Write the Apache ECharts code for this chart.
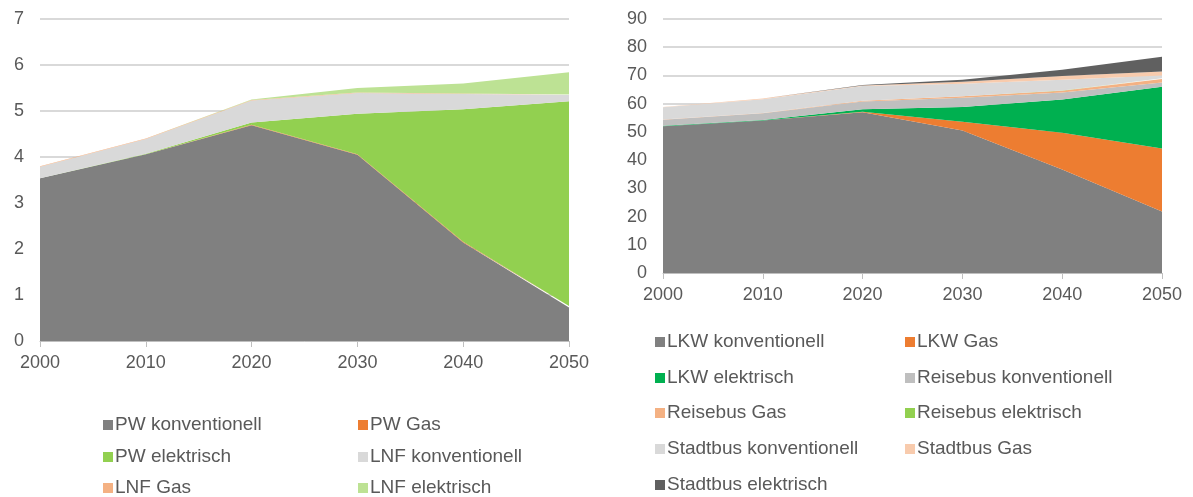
<!DOCTYPE html>
<html>
<head>
<meta charset="utf-8">
<script src="https://cdn.jsdelivr.net/npm/echarts@6/dist/echarts.min.js"></script>
<style>
html,body{margin:0;padding:0;background:#fff;}
#c{width:1193px;height:497px;}
</style>
</head>
<body>
<div id="c"></div>
<script>
// ---- data ----
const years = ['2000', '2010', '2020', '2030', '2040', '2050'];

// Left chart (PW / LNF)
const pwKonv   = [3.54, 4.06, 4.69, 4.05, 2.14, 0.73];
const pwGas    = [0, 0, 0.01, 0.01, 0.02, 0.03];
const pwElek   = [0, 0.01, 0.05, 0.88, 2.88, 4.45];
const lnfKonv  = [0.25, 0.32, 0.48, 0.45, 0.33, 0.14];
const lnfGas   = [0.01, 0.01, 0.01, 0.01, 0.01, 0.01];
const lnfElek  = [0, 0, 0.01, 0.10, 0.22, 0.48];

// Right chart (LKW / Busse)
const lkwKonv      = [52.0, 54.0, 57.0, 50.5, 36.7, 21.8];
const lkwGas       = [0, 0, 0.1, 3.1, 13.0, 22.3];
const lkwElek      = [0.2, 0.2, 0.9, 5.2, 11.8, 21.9];
const reiseKonv    = [2.1, 2.4, 2.8, 3.3, 2.5, 1.5];
const reiseGas     = [0.1, 0.1, 0.2, 0.5, 0.6, 1.2];
const reiseElek    = [0, 0, 0, 0.05, 0.1, 0.3];
const stadtKonv    = [4.3, 4.9, 5.3, 4.4, 3.8, 1.0];
const stadtGas     = [0.1, 0.2, 0.1, 0.7, 1.3, 1.4];
const stadtElek    = [0, 0, 0.2, 0.7, 2.2, 5.2];

const leftNames  = ['PW konventionell', 'PW Gas', 'PW elektrisch', 'LNF konventionell', 'LNF Gas', 'LNF elektrisch'];
const leftData   = [pwKonv, pwGas, pwElek, lnfKonv, lnfGas, lnfElek];
const leftColors = ['#808080', '#ED7D31', '#92D050', '#D9D9D9', '#F4B183', '#BDE294'];

const rightNames  = ['LKW konventionell', 'LKW Gas', 'LKW elektrisch', 'Reisebus konventionell', 'Reisebus Gas', 'Reisebus elektrisch', 'Stadtbus konventionell', 'Stadtbus Gas', 'Stadtbus elektrisch'];
const rightData   = [lkwKonv, lkwGas, lkwElek, reiseKonv, reiseGas, reiseElek, stadtKonv, stadtGas, stadtElek];
const rightColors = ['#808080', '#ED7D31', '#00B050', '#BFBFBF', '#F4B183', '#92D050', '#D9D9D9', '#F8CBAD', '#606060'];

// ---- chart ----
const FONT = 'Liberation Sans, Arial, sans-serif';
const TXT = '#595959';

function mkSeries(names, data, colors, idx, stack) {
  return names.map((n, i) => ({
    name: n,
    type: 'line',
    stack: stack,
    xAxisIndex: idx,
    yAxisIndex: idx,
    data: data[i],
    symbol: 'none',
    showSymbol: false,
    lineStyle: { width: 0 },
    areaStyle: { color: colors[i], opacity: 1 },
    itemStyle: { color: colors[i] },
    emphasis: { disabled: true }
  }));
}

function xAx(idx) {
  return {
    type: 'category', gridIndex: idx, data: years, boundaryGap: false,
    axisLine: { show: true, lineStyle: { color: '#BFBFBF', width: 1 } },
    axisTick: { show: true, length: 6, lineStyle: { color: '#BFBFBF' } },
    axisLabel: { color: TXT, fontFamily: FONT, fontSize: 18, margin: 13 },
    splitLine: { show: false }
  };
}
function yAx(idx, max, interval, margin) {
  return {
    type: 'value', gridIndex: idx, min: 0, max: max, interval: interval,
    axisLine: { show: false }, axisTick: { show: false },
    axisLabel: { color: TXT, fontFamily: FONT, fontSize: 18, margin: margin },
    splitLine: { lineStyle: { color: '#D9D9D9', width: 2 } }
  };
}
// one legend component per entry, laid out in two columns
function legendItem(name, left, centerY) {
  return {
    left: left, top: centerY - 10, orient: 'horizontal', padding: 0,
    itemWidth: 10, itemHeight: 10, icon: 'rect', selectedMode: false,
    data: [{ name: name }],
    textStyle: { color: TXT, fontFamily: FONT, fontSize: 19, lineHeight: 20, padding: [0, 0, 0, -3] }
  };
}
const leftRows = [425, 457, 488];
const rightRows = [342, 378, 413, 449, 485];
const legends = [];
leftNames.forEach((n, i) => {
  legends.push(legendItem(n, i % 2 === 0 ? 103 : 358, leftRows[Math.floor(i / 2)]));
});
rightNames.forEach((n, i) => {
  legends.push(legendItem(n, i % 2 === 0 ? 655 : 905, rightRows[Math.floor(i / 2)]));
});

const chart = echarts.init(document.getElementById('c'), null, { renderer: 'canvas' });
chart.setOption({
  animation: false,
  backgroundColor: '#fff',
  grid: [
    { left: 40, right: 624, top: 19, bottom: 156 },
    { left: 663, right: 31, top: 19, bottom: 224 }
  ],
  xAxis: [xAx(0), xAx(1)],
  yAxis: [yAx(0, 7, 1, 16), yAx(1, 90, 10, 16)],
  legend: legends,
  series: mkSeries(leftNames, leftData, leftColors, 0, 'left')
    .concat(mkSeries(rightNames, rightData, rightColors, 1, 'right'))
});
</script>
</body>
</html>
